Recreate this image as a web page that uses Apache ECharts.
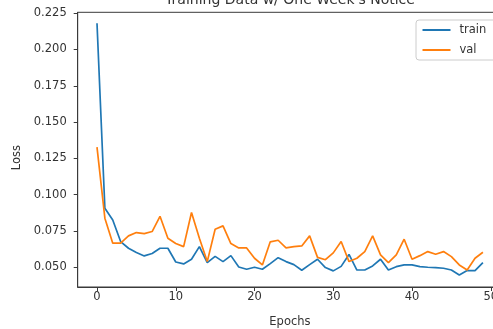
<!DOCTYPE html>
<html>
<head>
<meta charset="utf-8">
<title>Training Data w/ One Week's Notice</title>
<script src="https://cdn.jsdelivr.net/npm/echarts@6/dist/echarts.min.js"></script>
<style>
  html, body { margin: 0; padding: 0; background: #ffffff; }
  #chart { width: 493px; height: 329px; }
</style>
</head>
<body>
<div id="chart"></div>
<script>
// Per-epoch loss values
const trainLoss = [0.218, 0.0907, 0.0826, 0.0677, 0.0631, 0.0601, 0.0578, 0.0595, 0.0631, 0.0631,
  0.0536, 0.0523, 0.0555, 0.0642, 0.0532, 0.0575, 0.0539, 0.0580, 0.0502, 0.0486,
  0.0500, 0.0486, 0.0525, 0.0566, 0.0539, 0.0518, 0.0479, 0.0518, 0.0555, 0.0498,
  0.0475, 0.0506, 0.0588, 0.0481, 0.0481, 0.0509, 0.0555, 0.0481, 0.0504, 0.0516,
  0.0516, 0.0504, 0.0500, 0.0498, 0.0493, 0.0481, 0.0447, 0.0477, 0.0477, 0.0532];

const valLoss = [0.1328, 0.0838, 0.0666, 0.0666, 0.0716, 0.0739, 0.0732, 0.0746, 0.0851, 0.0700,
  0.0664, 0.0642, 0.0877, 0.0700, 0.0539, 0.0762, 0.0785, 0.0663, 0.0633, 0.0633,
  0.0562, 0.0516, 0.0675, 0.0686, 0.0633, 0.0642, 0.0647, 0.0716, 0.0568, 0.0552,
  0.0599, 0.0677, 0.0539, 0.0562, 0.0608, 0.0716, 0.0585, 0.0532, 0.0585, 0.0693,
  0.0555, 0.0580, 0.0608, 0.0590, 0.0608, 0.0573, 0.0516, 0.0481, 0.0562, 0.0603];

// Tick positions
const xTicks = [0, 10, 20, 30, 40, 50];
const yTicks = [0.050, 0.075, 0.100, 0.125, 0.150, 0.175, 0.200, 0.225];

const FONT = 'DejaVu Sans';
const INK = '#333333';
const SPINE = '#3a3a3a';

const toPairs = arr => arr.map((v, i) => [i, v]);

const chart = echarts.init(document.getElementById('chart'), null, { renderer: 'canvas' });

chart.setOption({
  animation: false,
  backgroundColor: '#ffffff',
  textStyle: { fontFamily: FONT },
  title: {
    text: "Training Data w/ One Week's Notice",
    left: 290,
    top: -7,
    padding: 0,
    textAlign: 'center',
    textStyle: { fontFamily: FONT, fontSize: 14, fontWeight: 'normal', color: INK }
  },
  grid: {
    left: 77.7,
    top: 12.3,
    width: 424.5,
    height: 274.7,
    outerBoundsMode: 'none',
    containLabel: false,
    show: true,
    borderColor: SPINE,
    borderWidth: 1,
    backgroundColor: 'transparent'
  },
  legend: {
    orient: 'vertical',
    left: 416,
    top: 20,
    padding: [3, 40, 3, 6.5],
    itemGap: 6,
    itemWidth: 28,
    itemHeight: 2,
    icon: 'rect',
    backgroundColor: 'rgba(255,255,255,0.8)',
    borderColor: '#cccccc',
    borderWidth: 1,
    borderRadius: 3,
    textStyle: { fontFamily: FONT, fontSize: 11.5, color: INK, padding: [0, 0, 0, 4], lineHeight: 14 },
    data: ['train', 'val']
  },
  xAxis: {
    type: 'value',
    min: -2.45,
    max: 51.45,
    name: 'Epochs',
    nameLocation: 'middle',
    nameGap: 29,
    nameTextStyle: { fontFamily: FONT, fontSize: 11.5, color: INK },
    splitLine: { show: false },
    axisLine: { show: true, onZero: false, lineStyle: { color: SPINE, width: 1 } },
    axisTick: { show: true, length: 4, customValues: xTicks, lineStyle: { color: SPINE } },
    axisLabel: {
      customValues: xTicks,
      margin: 4,
      fontFamily: FONT, fontSize: 11.5, color: INK,
      formatter: v => String(v)
    }
  },
  yAxis: {
    type: 'value',
    min: 0.0364,
    max: 0.2256,
    name: 'Loss',
    nameLocation: 'middle',
    nameGap: 51,
    nameTextStyle: { fontFamily: FONT, fontSize: 11.5, color: INK, padding: [0, 16, 0, 0] },
    splitLine: { show: false },
    axisLine: { show: true, onZero: false, lineStyle: { color: SPINE, width: 1 } },
    axisTick: { show: true, length: 4, customValues: yTicks, lineStyle: { color: SPINE } },
    axisLabel: {
      customValues: yTicks,
      margin: 11,
      fontFamily: FONT, fontSize: 11.5, color: INK,
      formatter: v => Number(v).toFixed(3)
    }
  },
  series: [
    {
      name: 'train',
      type: 'line',
      data: toPairs(trainLoss),
      symbol: 'none',
      lineStyle: { color: '#1f77b4', width: 1.7 },
      itemStyle: { color: '#1f77b4' },
      z: 2
    },
    {
      name: 'val',
      type: 'line',
      data: toPairs(valLoss),
      symbol: 'none',
      lineStyle: { color: '#ff7f0e', width: 1.7 },
      itemStyle: { color: '#ff7f0e' },
      z: 3
    }
  ]
});
</script>
</body>
</html>
